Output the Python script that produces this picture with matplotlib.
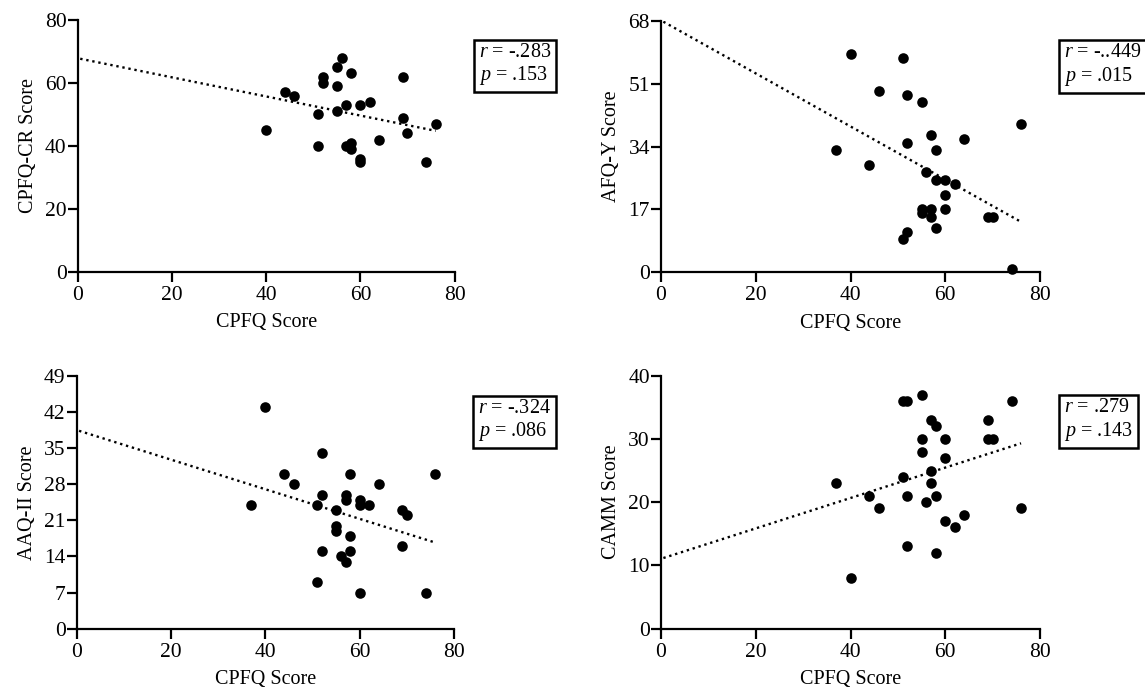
import numpy as np
import matplotlib
matplotlib.use('Agg')
import matplotlib.pyplot as plt

plt.rcParams['font.family'] = 'Liberation Serif'
plt.rcParams['mathtext.fontset'] = 'custom'
plt.rcParams['mathtext.rm'] = 'Liberation Serif'
plt.rcParams['mathtext.it'] = 'Liberation Serif:italic'

# CPFQ vs CPFQ-CR
cr_x = [40, 44, 46, 51, 51, 52, 52, 55, 56, 55, 55, 58, 57, 57, 58, 58, 60, 62, 60, 60, 64, 69, 69, 70, 74, 76]
cr_y = [45, 57, 56, 50, 40, 62, 60, 65, 68, 59, 51, 63, 53, 40, 41, 39, 53, 54, 36, 35, 42, 62, 49, 44, 35, 47]

# CPFQ vs AFQ-Y
afq_x = [40, 51, 46, 52, 55, 76, 57, 64, 52, 58, 37, 44, 56, 58, 60, 62, 60, 55, 57, 55, 57, 60, 69, 70, 58, 52, 51, 74]
afq_y = [59, 58, 49, 48, 46, 40, 37, 36, 35, 33, 33, 29, 27, 25, 25, 24, 21, 17, 17, 16, 15, 17, 15, 15, 12, 11, 9, 1]

# CPFQ vs AAQ-II
aaq_x = [40, 52, 44, 58, 76, 46, 64, 52, 57, 57, 60, 60, 62, 51, 37, 55, 69, 70, 55, 55, 58, 52, 58, 56, 57, 69, 51, 60, 74]
aaq_y = [43, 34, 30, 30, 30, 28, 28, 26, 26, 25, 25, 24, 24, 24, 24, 23, 23, 22, 20, 19, 18, 15, 15, 14, 13, 16, 9, 7, 7]

# CPFQ vs CAMM
camm_x = [55, 51, 52, 74, 57, 58, 69, 69, 70, 55, 60, 55, 60, 57, 51, 57, 37, 44, 52, 58, 56, 46, 76, 64, 60, 62, 52, 58, 40]
camm_y = [37, 36, 36, 36, 33, 32, 33, 30, 30, 30, 30, 28, 27, 25, 24, 23, 23, 21, 21, 21, 20, 19, 19, 18, 17, 16, 13, 12, 8]

panels = [
    (cr_x, cr_y, 'CPFQ-CR Score', [0, 20, 40, 60, 80], '$r$ = -.283\n$p$ = .153'),
    (afq_x, afq_y, 'AFQ-Y Score', [0, 17, 34, 51, 68], '$r$ = -..449\n$p$ = .015'),
    (aaq_x, aaq_y, 'AAQ-II Score', [0, 7, 14, 21, 28, 35, 42, 49], '$r$ = -.324\n$p$ = .086'),
    (camm_x, camm_y, 'CAMM Score', [0, 10, 20, 30, 40], '$r$ = .279\n$p$ = .143'),
]

fig = plt.figure(figsize=(11.45, 6.99), dpi=100)
rects = [[0.068, 0.611, 0.329, 0.3605],
         [0.5773, 0.6104, 0.331, 0.36],
         [0.067, 0.1006, 0.3295, 0.3615],
         [0.5773, 0.1006, 0.331, 0.362]]

for rect, (x, y, ylab, yticks, stat) in zip(rects, panels):
    ax = fig.add_axes(rect)
    x = np.array(x, dtype=float)
    y = np.array(y, dtype=float)
    ax.scatter(x, y, s=58, color='black', zorder=3, clip_on=False, linewidths=0)
    m, b = np.polyfit(x, y, 1)
    xx = np.array([0.5, x.max()])
    ax.plot(xx, m * xx + b, color='black', lw=1.7, linestyle=(0, (1, 1.6)))
    ax.set_xlim(0, 80)
    ax.set_ylim(yticks[0], yticks[-1])
    ax.set_xticks([0, 20, 40, 60, 80])
    ax.set_yticks(yticks)
    for s in ['top', 'right']:
        ax.spines[s].set_visible(False)
    for s in ['left', 'bottom']:
        ax.spines[s].set_linewidth(1.6)
    ax.tick_params(axis='both', labelsize=15.5, width=1.6, length=7, direction='out')
    ax.tick_params(axis='y', pad=1)
    ax.tick_params(axis='x', pad=3)
    ax.set_xlabel('CPFQ Score', fontsize=14.5, labelpad=6)
    ax.set_ylabel(ylab, fontsize=14.5, labelpad=5)
    ax.text(1.064, 0.91, stat, transform=ax.transAxes, fontsize=14.5,
            va='top', ha='left', linespacing=1.15,
            bbox=dict(boxstyle='square,pad=0.25', facecolor='white',
                      edgecolor='black', linewidth=1.8))

fig.savefig('out.png', dpi=100)
